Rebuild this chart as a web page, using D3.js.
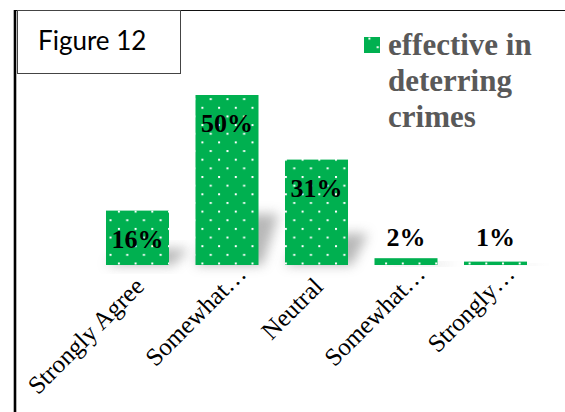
<!DOCTYPE html>
<meta charset="utf-8">
<title>Figure 12</title>
<style>
*{ margin: 0; padding: 0; }
body{ background: #fff; }
svg{ display: block; }
.cat{ font-family: "Liberation Serif", "Times New Roman", serif; font-size: 25px; fill: #000; }
.val{ font-family: "Liberation Serif", "Times New Roman", serif; font-size: 26px; font-weight: bold; fill: #000; }
.leg{ font-family: "Liberation Serif", "Times New Roman", serif; font-size: 31px; font-weight: bold; fill: #595959; }
.fig{ font-family: Lato, "Open Sans", sans-serif; font-size: 26px; fill: #000; }
</style>
<body>
<script src="https://d3js.org/d3.v7.min.js"></script>
<div id="chart"></div>
<script>

var width = 565,
    height = 412;

// data
var categories = ["Strongly Agree", "Somewhat Agree", "Neutral", "Somewhat Disagree", "Strongly Disagree"];
var tickLabels = ["Strongly Agree", "Somewhat…", "Neutral", "Somewhat…", "Strongly…"];
var values = [16, 50, 31, 2, 1];
var seriesName = ["effective in", "deterring", "crimes"];

var green = "#00b050";

var svg = d3.select("#chart").append("svg")
    .attr("width", width)
    .attr("height", height);

var defs = svg.append("defs");

// dotted fill like the excel pattern
var pat = defs.append("pattern")
    .attr("id", "dots")
    .attr("patternUnits", "userSpaceOnUse")
    .attr("x", 1).attr("y", 3)
    .attr("width", 16.7)
    .attr("height", 17.3);
pat.append("rect").attr("width", 16.7).attr("height", 17.3).attr("fill", green);
pat.append("rect").attr("x", 0).attr("y", 0).attr("width", 2).attr("height", 2).attr("fill", "#fff");
pat.append("rect").attr("x", 8.35).attr("y", 8.65).attr("width", 2).attr("height", 2).attr("fill", "#fff");

defs.append("filter")
    .attr("id", "blur")
    .attr("x", "-50%").attr("y", "-50%")
    .attr("width", "200%").attr("height", "200%")
  .append("feGaussianBlur")
    .attr("stdDeviation", 6);

var x = d3.scaleBand()
    .domain(categories)
    .range([92.75, 540.25])
    .paddingInner(0.296)
    .paddingOuter(0.148);

var y = d3.scaleLinear()
    .domain([0, 60])
    .range([265, 61]);

// frame
svg.append("line")
    .attr("x1", 14).attr("x2", width)
    .attr("y1", 10.5).attr("y2", 10.5)
    .attr("stroke", "#111").attr("stroke-width", 1.2);
svg.append("line")
    .attr("x1", 15).attr("x2", 15)
    .attr("y1", 10).attr("y2", height)
    .attr("stroke", "#000").attr("stroke-width", 2.6);

// shadows behind bars (perspective-ish)
svg.append("g").selectAll("path")
  .data(values)
  .enter().append("path")
    .attr("d", function(d, i) {
      var x0 = x(categories[i]), x1 = x0 + x.bandwidth();
      var h = (y(0) - y(d)) * 0.3;
      var sk = 20;
      return "M" + x0 + "," + y(0) + "L" + (x1 + 4) + "," + y(0) +
        "L" + (x1 + sk) + "," + (y(0) - h) + "L" + (x0 + sk) + "," + (y(0) - h) + "Z";
    })
    .attr("fill", "#9a9a9a")
    .attr("opacity", 0.7)
    .attr("filter", "url(#blur)");

// bars
svg.append("g").selectAll("rect")
  .data(values)
  .enter().append("rect")
    .attr("x", function(d, i) { return x(categories[i]); })
    .attr("y", function(d) { return y(d); })
    .attr("width", x.bandwidth())
    .attr("height", function(d) { return y(0) - y(d); })
    .attr("fill", "url(#dots)");

// value labels
svg.append("g").selectAll("text")
  .data(values)
  .enter().append("text")
    .attr("class", "val")
    .attr("text-anchor", "middle")
    .attr("x", function(d, i) { return x(categories[i]) + x.bandwidth() / 2; })
    .attr("y", function(d) {
      return (y(0) - y(d) > 40) ? y(d) + 37 : Math.min(y(d) - 12, 246);
    })
    .text(function(d) { return d + "%"; });

// category labels, rotated (cut labels sit a bit further along)
svg.append("g").selectAll("text")
  .data(tickLabels)
  .enter().append("text")
    .attr("class", "cat")
    .attr("text-anchor", "end")
    .attr("dx", function(d) { return d.slice(-1) == "…" ? 18 : 0; })
    .attr("transform", function(d, i) {
      var cx = x(categories[i]) + x.bandwidth() / 2;
      return "translate(" + (cx + 8) + ",288) rotate(-45)";
    })
    .text(function(d) { return d; });

// legend
var legend = svg.append("g");
legend.append("rect")
    .attr("x", 364).attr("y", 37)
    .attr("width", 16).attr("height", 16)
    .attr("fill", "url(#dots)");
legend.selectAll("text")
  .data(seriesName)
  .enter().append("text")
    .attr("class", "leg")
    .attr("x", 388)
    .attr("y", function(d, i) { return 55 + i * 36; })
    .text(function(d) { return d; });

// "Figure 12" box
svg.append("rect")
    .attr("x", 17.5).attr("y", 10.5)
    .attr("width", 163).attr("height", 63)
    .attr("fill", "#fff")
    .attr("stroke", "#444").attr("stroke-width", 1);
svg.append("text")
    .attr("class", "fig")
    .attr("x", 38).attr("y", 50)
    .text("Figure 12");

</script>
</body>
</html>
